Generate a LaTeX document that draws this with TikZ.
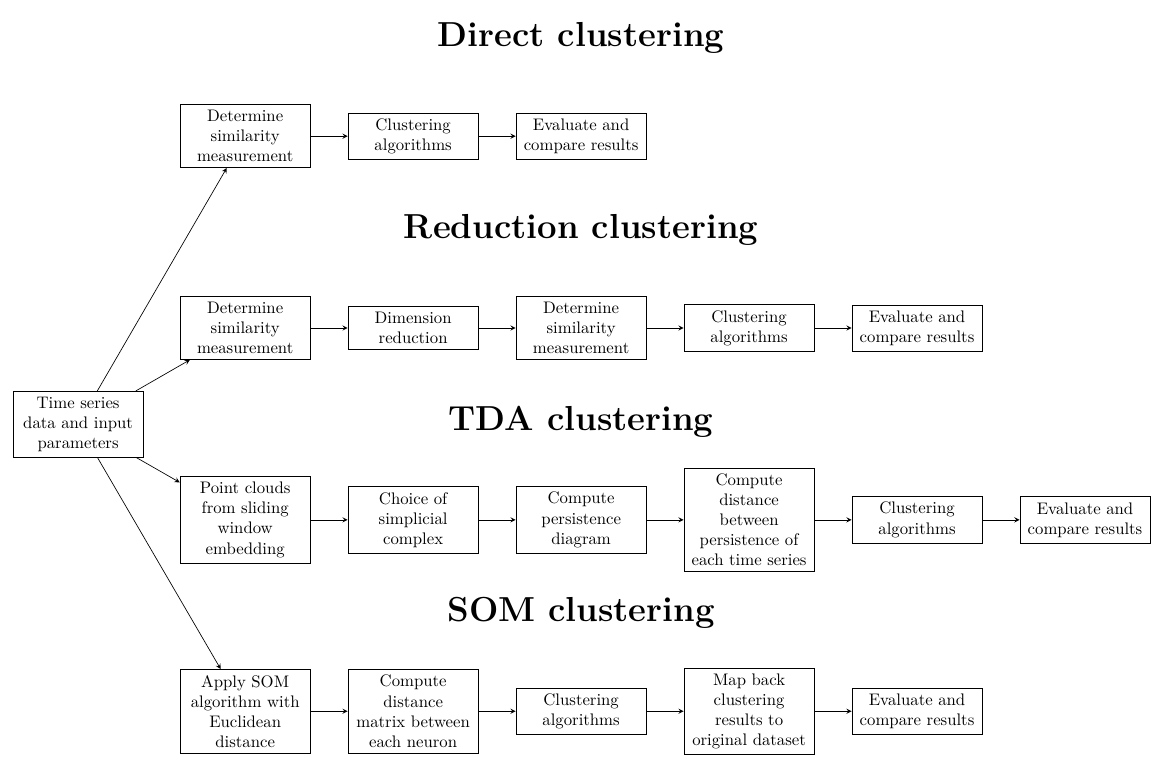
\documentclass[tikz,border=0pt]{standalone}
\usetikzlibrary{positioning,calc}

\begin{document}
\begin{tikzpicture}[stepbox/.style={draw,text width=2.5cm,align=center},
    heading/.style={font=\huge\bfseries},
    node distance=0.78cm]
      \useasboundingbox (0,0) rectangle (24.64,-16.24);

      \node[stepbox] (in) at (1.64,-8.91) {Time series data and input parameters};

      % direct clustering
      \node[stepbox] (d1) at (5.15,-2.86) {Determine similarity measurement};
      \node[stepbox,right=of d1] (d2) {Clustering algorithms};
      \node[stepbox,right=of d2] (d3) {Evaluate and compare results};
      \node[heading] at ($(d3)+(0,2.06)$) {Direct clustering};

      % reduction clustering
      \node[stepbox] (r1) at (5.15,-6.89) {Determine similarity measurement};
      \node[stepbox,right=of r1] (r2) {Dimension reduction};
      \node[stepbox,right=of r2] (r3) {Determine similarity measurement};
      \node[stepbox,right=of r3] (r4) {Clustering algorithms};
      \node[stepbox,right=of r4] (r5) {Evaluate and compare results};
      \node[heading] at ($(r3)+(0,2.06)$) {Reduction clustering};

      % TDA clustering
      \node[stepbox] (t1) at (5.15,-10.92) {Point clouds from sliding window embedding};
      \node[stepbox,right=of t1] (t2) {Choice of simplicial complex};
      \node[stepbox,right=of t2] (t3) {Compute persistence diagram};
      \node[stepbox,right=of t3] (t4) {Compute distance between persistence of each time series};
      \node[stepbox,right=of t4] (t5) {Clustering algorithms};
      \node[stepbox,right=of t5] (t6) {Evaluate and compare results};
      \node[heading] at ($(t3)+(0,2.06)$) {TDA clustering};

      % SOM clustering
      \node[stepbox] (s1) at (5.15,-14.94) {Apply SOM algorithm with Euclidean distance};
      \node[stepbox,right=of s1] (s2) {Compute distance matrix between each neuron};
      \node[stepbox,right=of s2] (s3) {Clustering algorithms};
      \node[stepbox,right=of s3] (s4) {Map back clustering results to original dataset};
      \node[stepbox,right=of s4] (s5) {Evaluate and compare results};
      \node[heading] at ($(s3)+(0,2.06)$) {SOM clustering};

      \foreach \a/\b in {in/d1,in/r1,in/t1,in/s1,d1/d2,d2/d3,r1/r2,r2/r3,r3/r4,r4/r5,t1/t2,t2/t3,t3/t4,t4/t5,t5/t6,s1/s2,s2/s3,s3/s4,s4/s5} {
        \draw[-stealth] (\a) -- (\b);
      }
    \end{tikzpicture}
\end{document}
